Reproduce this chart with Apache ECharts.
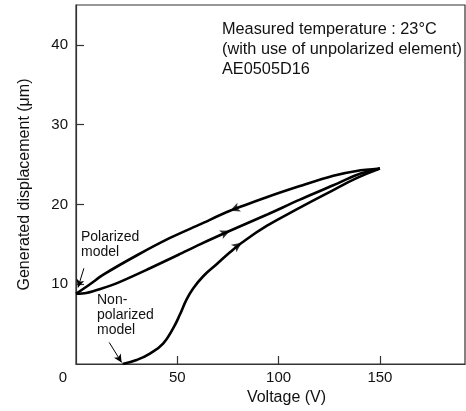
<!DOCTYPE html>
<html>
<head>
<meta charset="utf-8">
<script src="https://cdn.jsdelivr.net/npm/echarts@6/dist/echarts.min.js"></script>
<style>
html, body { margin: 0; padding: 0; background: #fff; }
#chart { width: 466px; height: 411px; }
</style>
</head>
<body>
<div id="chart"></div>
<script>
// polarized model, going back down from 150V (upper branch), listed by voltage
let polarDownV = [0, 6.9, 13.5, 29.9, 46.4, 61.2, 76, 94.1, 110.5, 127, 138.5, 150];
let polarDownD = [8.8, 10.0, 11.2, 13.6, 15.8, 17.5, 19.2, 20.9, 22.3, 23.6, 24.2, 24.5];
// polarized model, going up 0V -> 150V
let polarUpV = [0, 5, 12, 21.7, 36.5, 50.6, 61.2, 76, 94.1, 110.5, 127, 138.5, 150];
let polarUpD = [8.8, 8.9, 9.4, 10.3, 12.0, 13.7, 15.0, 16.7, 18.7, 20.6, 22.4, 23.7, 24.5];
// non-polarized model, first rise
let nonPolarV = [23, 29.9, 36.5, 43.1, 48, 51.3, 54.6, 57.9, 62.8, 69.4, 76, 81.8, 94.1, 110.5, 127, 138.5, 150];
let nonPolarD = [0, 0.5, 1.3, 2.6, 4.5, 6.2, 8.1, 9.5, 11.0, 12.5, 14.0, 15.2, 17.3, 19.6, 21.8, 23.3, 24.5];
// pointer lines for the labels (from, to)
let pointerPolar = [[3.9, 12.0], [1.0, 9.6]];
let pointerNonPolar = [[16.4, 2.7], [22.5, 0.2]];
let noteLines = ['Measured temperature : 23°C', '(with use of unpolarized element)', 'AE0505D16'];

let font = 'Liberation Sans, Arial, Helvetica, sans-serif';
let ink = '#111';
let chart = echarts.init(document.getElementById('chart'));

function pairs(vs, ds) {
    let out = [];
    for (let i = 0; i < vs.length; i++) out.push([vs[i], ds[i]]);
    return out;
}

function curve(name, vs, ds, smooth) {
    return {
        name: name,
        type: 'line',
        data: pairs(vs, ds),
        smooth: smooth,
        showSymbol: false,
        silent: true,
        lineStyle: { color: '#000', width: 2.6 },
        z: 3
    };
}

let option = {
    animation: false,
    backgroundColor: '#fff',
    grid: {
        left: 76, right: 1, top: 5, bottom: 47,
        outerBoundsMode: 'none',
        show: true,
        borderColor: '#333',
        borderWidth: 1.2
    },
    xAxis: {
        type: 'value',
        min: 0, max: 192, interval: 50,
        name: 'Voltage (V)',
        nameLocation: 'middle',
        nameGap: 25,
        nameTextStyle: { fontSize: 16, color: ink, fontFamily: font, padding: [0, 0, 0, 32] },
        axisLine: { show: true, lineStyle: { color: '#333', width: 1.2 } },
        axisTick: { show: true, inside: true, length: 8, lineStyle: { color: '#333', width: 1.2 } },
        axisLabel: { showMinLabel: false, showMaxLabel: false, fontSize: 15, color: ink, fontFamily: font, margin: 6 },
        splitLine: { show: false }
    },
    yAxis: {
        type: 'value',
        min: 0, max: 45, interval: 10,
        name: 'Generated displacement (μm)',
        nameLocation: 'middle',
        nameGap: 43,
        nameTextStyle: { fontSize: 16, color: ink, fontFamily: font },
        axisLine: { show: true, lineStyle: { color: '#333', width: 1.2 } },
        axisTick: { show: true, inside: true, length: 8, lineStyle: { color: '#333', width: 1.2 } },
        axisLabel: { showMinLabel: false, showMaxLabel: false, fontSize: 15, color: ink, fontFamily: font, margin: 8 },
        splitLine: { show: false }
    },
    graphic: [
        { type: 'text', left: 222, top: 20, silent: true,
          style: { text: noteLines.join('\n'), fontSize: 16.3, lineHeight: 20, fill: ink, fontFamily: font } },
        { type: 'text', left: 81, top: 230, silent: true,
          style: { text: 'Polarized\nmodel', fontSize: 14, lineHeight: 15, fill: ink, fontFamily: font } },
        { type: 'text', left: 97, top: 293, silent: true,
          style: { text: 'Non-\npolarized\nmodel', fontSize: 14, lineHeight: 15, fill: ink, fontFamily: font } },
        { type: 'text', x: 67, y: 378, silent: true,
          style: { text: '0', fontSize: 15, fill: ink, fontFamily: font, align: 'right', verticalAlign: 'middle' } }
    ],
    series: [
        curve('Polarized (down)', polarDownV, polarDownD, 0.3),
        curve('Polarized (up)', polarUpV, polarUpD, 0.3),
        curve('Non-polarized', nonPolarV, nonPolarD, 0.45),
        {
            id: 'arrows',
            type: 'scatter',
            data: [],
            symbol: 'arrow',
            symbolSize: [7, 10],
            silent: true,
            itemStyle: { color: '#000' },
            z: 4,
            markLine: {
                silent: true,
                symbol: ['none', 'arrow'],
                symbolSize: [6, 8],
                label: { show: false },
                lineStyle: { color: '#000', width: 1, type: 'solid' },
                data: [
                    [{ coord: pointerPolar[0] }, { coord: pointerPolar[1] }],
                    [{ coord: pointerNonPolar[0] }, { coord: pointerNonPolar[1] }]
                ]
            }
        }
    ]
};
chart.setOption(option);

// arrowhead on a curve at point i, dir = +1 along rising voltage, -1 back
function arrowAt(vs, ds, i, dir) {
    let a = chart.convertToPixel({ gridIndex: 0 }, [vs[i - 1], ds[i - 1]]);
    let b = chart.convertToPixel({ gridIndex: 0 }, [vs[i + 1], ds[i + 1]]);
    let ang = Math.atan2(-(b[1] - a[1]) * dir, (b[0] - a[0]) * dir) * 180 / Math.PI;
    return { value: [vs[i], ds[i]], symbolRotate: ang - 90 };
}

chart.setOption({
    series: [{
        id: 'arrows',
        data: [
            arrowAt(polarDownV, polarDownD, 6, -1),
            arrowAt(polarUpV, polarUpD, 7, 1),
            arrowAt(nonPolarV, nonPolarD, 11, 1)
        ]
    }]
});
</script>
</body>
</html>
